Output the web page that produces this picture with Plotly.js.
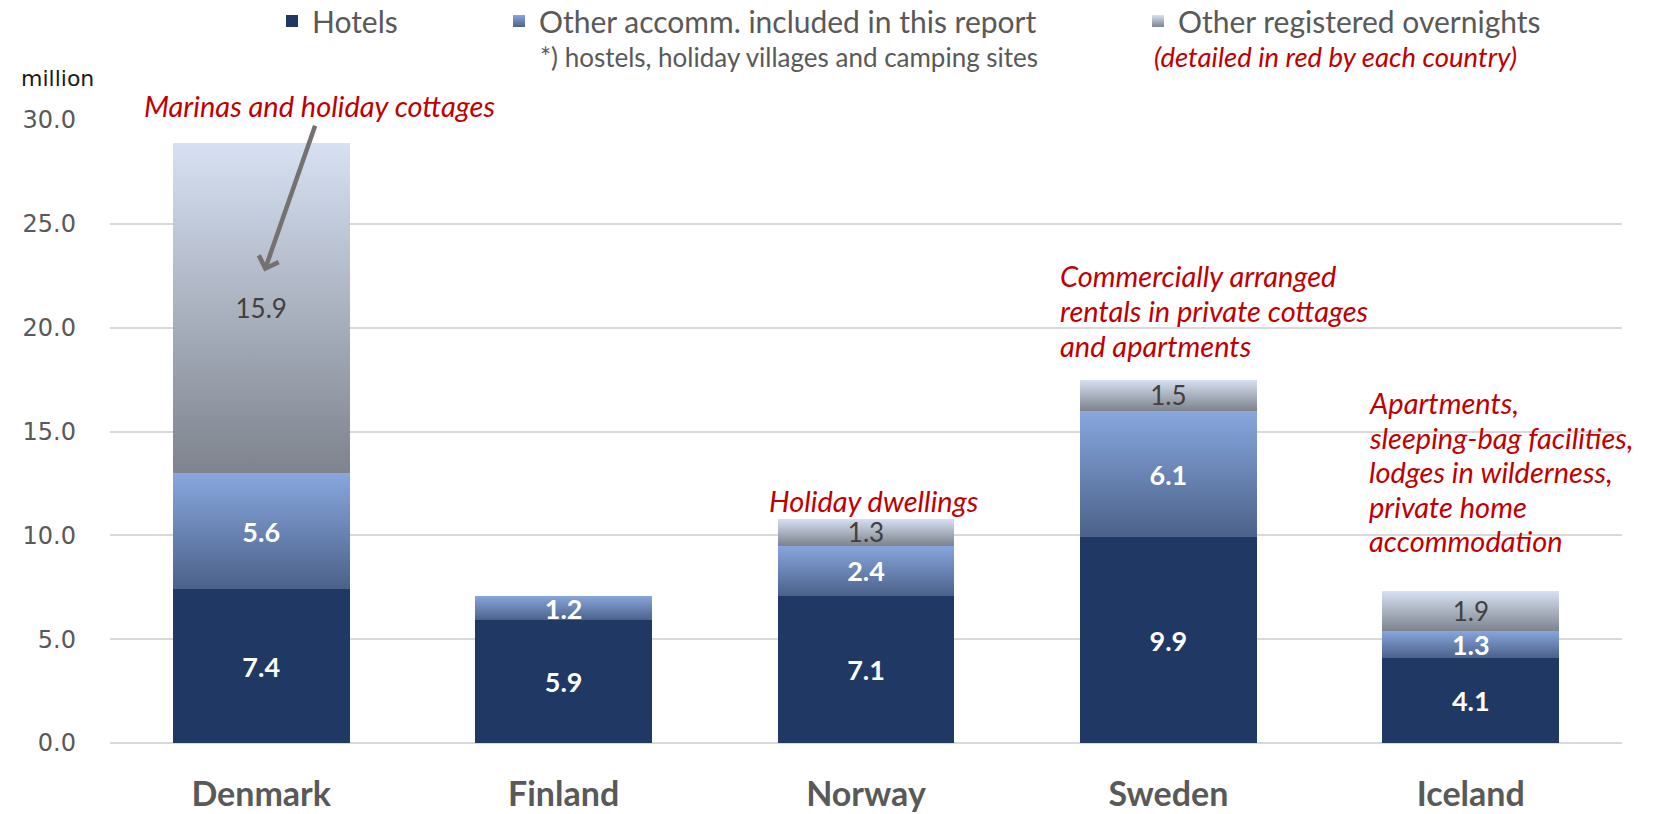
<!DOCTYPE html>
<html>
<head>
<meta charset="utf-8">
<script src="https://cdn.plot.ly/plotly-3.0.1.min.js"></script>
<style>
  html, body { margin: 0; padding: 0; background: #ffffff; }
  #chart { width: 1671px; height: 814px; }
</style>
</head>
<body>
<div id="chart"></div>
<script>
// ---- data ----
const categories = ['Denmark', 'Finland', 'Norway', 'Sweden', 'Iceland'];
const hotels = [7.4, 5.9, 7.1, 9.9, 4.1];
const otherAccomm = [5.6, 1.2, 2.4, 6.1, 1.3];
const otherRegistered = [15.9, null, 1.3, 1.5, 1.9];
const seriesNames = ['Hotels', 'Other accomm. included in this report', 'Other registered overnights'];
const yTickValues = [0, 5, 10, 15, 20, 25, 30];
const yTickLabels = ['0.0', '5.0', '10.0', '15.0', '20.0', '25.0', '30.0'];
const unitLabel = 'million';
const legendNote1 = '*) hostels, holiday villages and camping sites';
const legendNote2 = '(detailed in red by each country)';
const noteDenmark = 'Marinas and holiday cottages';
const noteNorway = 'Holiday dwellings';
const noteSweden = ['Commercially arranged', 'rentals in private cottages', 'and apartments'];
const noteIceland = ['Apartments,', 'sleeping-bag facilities,', 'lodges in wilderness,', 'private home', 'accommodation'];

// ---- styles ----
const FONT = 'Lato, "Open Sans", sans-serif';
const TICKFONT = '"DejaVu Sans", Verdana, sans-serif';
const GREY = '#595959';
const RED = '#c00000';
const COL_HOTELS = '#203864';
const COL_ACC = '#6a86bb';   // placeholder, replaced by gradient
const COL_REG = '#aab3c4';   // placeholder, replaced by gradient

// plot geometry (pixels) used to place paper-referenced texts
const W = 1671, H = 814;
const M = { l: 110, r: 49, t: 120.4, b: 71.2 };
const PW = W - M.l - M.r, PH = H - M.t - M.b;
const px2paperX = (px) => (px - M.l) / PW;
const px2paperY = (py) => (H - M.b - py) / PH;

const labelFont = (color, weight, size) => ({ family: FONT, size: size, color: color, weight: weight });

const traces = [
  {
    type: 'bar', name: seriesNames[0], x: categories, y: hotels,
    marker: { color: COL_HOTELS, line: { width: 0 } },
    texttemplate: '%{y:.1f}', textposition: 'inside', insidetextanchor: 'middle',
    constraintext: 'none', textangle: 0,
    insidetextfont: labelFont('#ffffff', 700, 27),
    legend: 'legend', hoverinfo: 'skip'
  },
  {
    type: 'bar', name: seriesNames[1], x: categories, y: otherAccomm,
    marker: { color: COL_ACC, line: { width: 0 } },
    texttemplate: '%{y:.1f}', textposition: 'inside', insidetextanchor: 'middle',
    constraintext: 'none', textangle: 0,
    insidetextfont: labelFont('#ffffff', 700, 27),
    legend: 'legend2', hoverinfo: 'skip'
  },
  {
    type: 'bar', name: seriesNames[2], x: categories, y: otherRegistered,
    marker: { color: COL_REG, line: { width: 0 } },
    texttemplate: '%{y:.1f}', textposition: 'inside', insidetextanchor: 'middle',
    constraintext: 'none', textangle: 0,
    insidetextfont: labelFont('#404040', 400, 26),
    legend: 'legend3', hoverinfo: 'skip'
  }
];

const legendBase = (x) => ({
  orientation: 'h', xref: 'container', yref: 'container',
  x: x, y: 1 - 21 / H, xanchor: 'left', yanchor: 'middle',
  font: { family: FONT, size: 30, color: GREY },
  bgcolor: 'rgba(0,0,0,0)', borderwidth: 0, itemclick: false, itemdoubleclick: false
});

const NOTE_SIZE = 29;
const noteFont = { family: FONT, size: NOTE_SIZE, color: RED, style: 'italic' };
const LINE_PX = 34.6;                 // line spacing of the red notes in pixels
const unitsPerPx = 30 / PH;

// multi-line notes placed line by line (first line centre in data units)
function noteLines(lines, x, yFirst) {
  return lines.map((t, i) => ({
    xref: 'x', yref: 'y', x: x, y: yFirst - i * LINE_PX * unitsPerPx,
    xanchor: 'left', yanchor: 'middle', align: 'left',
    text: t, showarrow: false, font: noteFont
  }));
}

const layout = {
  width: W, height: H,
  margin: M,
  paper_bgcolor: '#ffffff', plot_bgcolor: '#ffffff',
  barmode: 'stack', bargap: 0.415,
  showlegend: true,
  legend: legendBase(272 / W),
  legend2: legendBase(499 / W),
  legend3: legendBase(1138 / W),
  xaxis: {
    type: 'category', range: [-0.5, categories.length - 0.5], autorange: false,
    showgrid: false, zeroline: false, showline: false, ticks: '',
    tickfont: { family: FONT, size: 34, color: GREY, weight: 700 },
    ticklabelstandoff: 28, fixedrange: true
  },
  yaxis: {
    range: [0, 30], autorange: false, tickvals: yTickValues, ticktext: yTickLabels,
    showgrid: true, gridcolor: '#d9d9d9', gridwidth: 2,
    zeroline: true, zerolinecolor: '#d9d9d9', zerolinewidth: 2,
    showline: false, ticks: '',
    tickfont: { family: TICKFONT, size: 24, color: GREY },
    ticklabelstandoff: 33, fixedrange: true
  },
  annotations: [
    { xref: 'paper', yref: 'paper', x: px2paperX(19), y: px2paperY(79), xanchor: 'left', yanchor: 'middle',
      text: unitLabel, showarrow: false, font: { family: TICKFONT, size: 22, color: '#1a1a1a' } },
    { xref: 'paper', yref: 'paper', x: px2paperX(538), y: px2paperY(57), xanchor: 'left', yanchor: 'middle',
      text: legendNote1, showarrow: false, font: { family: FONT, size: 26, color: GREY } },
    { xref: 'paper', yref: 'paper', x: px2paperX(1152), y: px2paperY(57), xanchor: 'left', yanchor: 'middle',
      text: legendNote2, showarrow: false, font: { family: FONT, size: 27.5, color: RED, style: 'italic' } },
    // arrow
    { xref: 'x', yref: 'y', axref: 'x', ayref: 'y', x: 0.01, y: 22.7, ax: 0.18, ay: 29.8,
      text: '', showarrow: true, arrowhead: 4, arrowsize: 0.9, arrowwidth: 4.5, arrowcolor: '#767171', standoff: 0 },
    { xref: 'paper', yref: 'paper', x: px2paperX(319), y: px2paperY(106), xanchor: 'center', yanchor: 'middle',
      text: noteDenmark, showarrow: false, font: noteFont },
    { xref: 'x', yref: 'y', x: 2.026, y: 11.7, xanchor: 'center', yanchor: 'middle',
      text: noteNorway, showarrow: false, font: noteFont }
  ]
    .concat(noteLines(noteSweden, 2.635, 22.5))
    .concat(noteLines(noteIceland, 3.657, 16.4))
};

const gradients = {
  'rgb(106, 134, 187)': { id: 'gradAcc', stops: [['0%', '#88a7de'], ['100%', '#4b6189']] },
  'rgb(170, 179, 196)': { id: 'gradReg', stops: [['0%', '#d7e1f3'], ['100%', '#7e838d']] }
};

function applyGradients() {
  const svgs = document.querySelectorAll('#chart svg.main-svg');
  if (!svgs.length) return;
  const svg = svgs[0];
  const ns = 'http://www.w3.org/2000/svg';
  let defs = svg.querySelector('defs');
  if (!defs) { defs = document.createElementNS(ns, 'defs'); svg.insertBefore(defs, svg.firstChild); }
  Object.values(gradients).forEach(g => {
    if (document.getElementById(g.id)) return;
    const lg = document.createElementNS(ns, 'linearGradient');
    lg.setAttribute('id', g.id);
    lg.setAttribute('x1', '0'); lg.setAttribute('y1', '0');
    lg.setAttribute('x2', '0'); lg.setAttribute('y2', '1');
    g.stops.forEach(s => {
      const st = document.createElementNS(ns, 'stop');
      st.setAttribute('offset', s[0]);
      st.setAttribute('stop-color', s[1]);
      lg.appendChild(st);
    });
    defs.appendChild(lg);
  });
  document.querySelectorAll('#chart path').forEach(p => {
    const f = p.style.fill;
    if (gradients[f]) p.style.fill = 'url(#' + gradients[f].id + ')';
  });
}

const gd = document.getElementById('chart');
Plotly.newPlot(gd, traces, layout, { displayModeBar: false, staticPlot: true }).then(() => {
  applyGradients();
  gd.on && gd.on('plotly_afterplot', applyGradients);
});
</script>
</body>
</html>
